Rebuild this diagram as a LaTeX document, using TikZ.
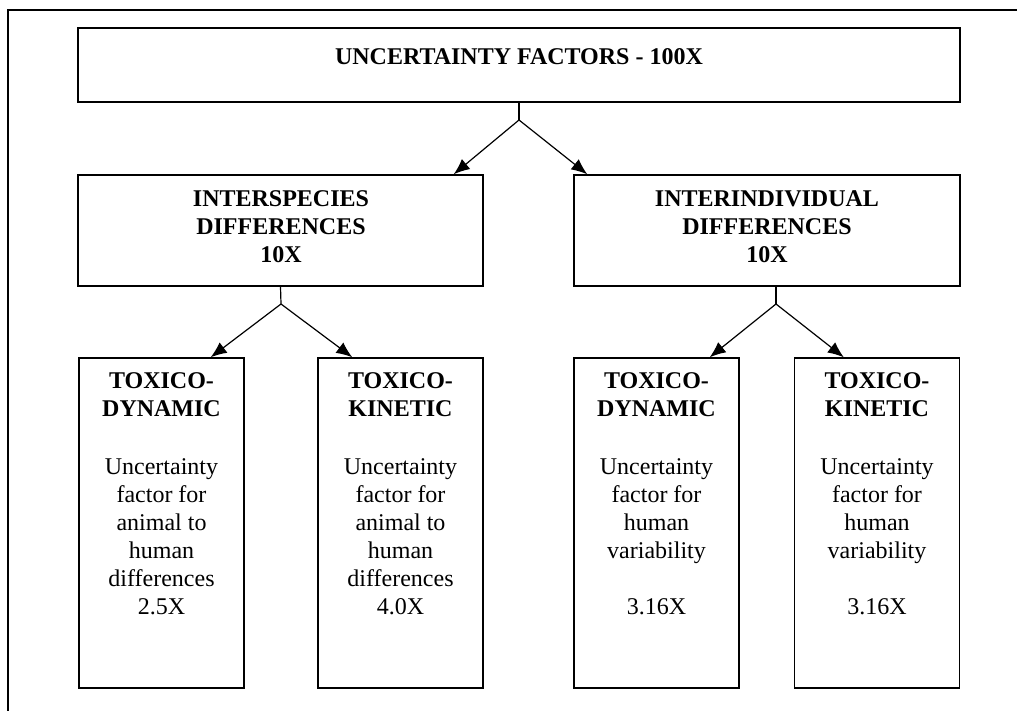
\documentclass[tikz,border=0pt]{standalone}
\usepackage{fontspec}
\setmainfont{Liberation Serif}
\usepackage{tikz}
\usetikzlibrary{arrows.meta,positioning}

\tikzset{
	ufbox/.style={draw, line width=1.4pt, inner sep=0pt},
	uftext/.style={anchor=north, inner sep=0pt, align=center, font=\fontsize{24}{28}\selectfont},
	ufhead/.style={uftext, font=\bfseries\fontsize{24}{28}\selectfont},
	ufarrow/.style={line width=1.2pt, -{Latex[length=16pt,width=13pt]}}
}

\begin{document}
\begin{tikzpicture}[x=1pt, y=-1pt]
		\useasboundingbox (0,0) rectangle (1017,711);
		% frame
		\draw [line width=1.3pt] (8,711) -- (8,10) -- (1017,10);
		% TOP
		\node [ufbox, minimum width=882pt, minimum height=74pt] (uf) at (519,65) {};
		\node [ufhead] (uf-txt) at (519,48) {UNCERTAINTY FACTORS - 100X};
		% MID
		\node [ufbox, minimum width=405pt, minimum height=111pt] (inters) at (280.5,230.5) {};
		\node [ufhead] (inters-txt) at (281,190) {INTERSPECIES\\DIFFERENCES\\10X};
		\node [ufbox, minimum width=386pt, minimum height=111pt] (interi) at (767,230.5) {};
		\node [ufhead] (interi-txt) at (767,190) {INTERINDIVIDUAL\\DIFFERENCES\\10X};
		% LOW
		\node [ufbox, minimum width=165pt, minimum height=330pt] (tdA) at (161.5,523) {};
		\node [ufbox, minimum width=165pt, minimum height=330pt] (tkA) at (400.5,523) {};
		\node [ufbox, minimum width=165pt, minimum height=330pt] (tdB) at (656.5,523) {};
		\node [ufbox, minimum width=165pt, minimum height=330pt] (tkB) at (877,523) {};
		\node [uftext] (tdA-txt) at ([yshift=-15pt]tdA.north) {\textbf{TOXICO-}\\\textbf{DYNAMIC}\\[30pt]Uncertainty\\factor for\\animal to\\human\\differences\\2.5X};
		\node [uftext] (tkA-txt) at ([yshift=-15pt]tkA.north) {\textbf{TOXICO-}\\\textbf{KINETIC}\\[30pt]Uncertainty\\factor for\\animal to\\human\\differences\\4.0X};
		\node [uftext] (tdB-txt) at ([yshift=-15pt]tdB.north) {\textbf{TOXICO-}\\\textbf{DYNAMIC}\\[30pt]Uncertainty\\factor for\\human\\variability\\[28pt]3.16X};
		\node [uftext] (tkB-txt) at ([yshift=-15pt]tkB.north) {\textbf{TOXICO-}\\\textbf{KINETIC}\\[30pt]Uncertainty\\factor for\\human\\variability\\[28pt]3.16X};
		% arrows
		\coordinate (j0) at (519,120);
		\coordinate (j1) at (281,304);
		\coordinate (j2) at (776,304);
		\draw [line width=1.2pt] (uf.south) -- (j0);
		\draw [ufarrow] (j0) -- ([xshift=-30pt]inters.north east);
		\draw [ufarrow] (j0) -- ([xshift=14pt]interi.north west);
		\draw [line width=1.2pt] (inters.south) -- (j1);
		\draw [ufarrow] (j1) -- ([xshift=-34pt]tdA.north east);
		\draw [ufarrow] (j1) -- ([xshift=35pt]tkA.north west);
		\draw [line width=1.2pt] (interi.south -| j2) -- (j2);
		\draw [ufarrow] (j2) -- ([xshift=-30pt]tdB.north east);
		\draw [ufarrow] (j2) -- ([xshift=50pt]tkB.north west);
	\end{tikzpicture}
\end{document}
